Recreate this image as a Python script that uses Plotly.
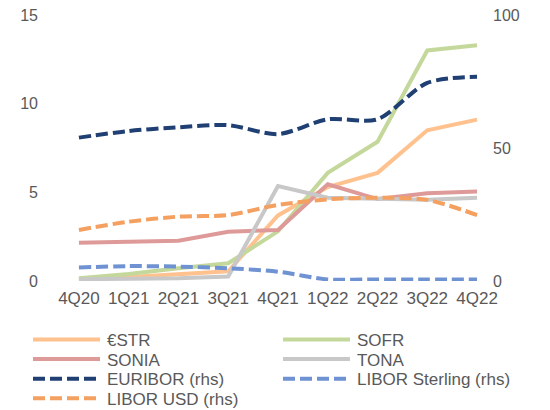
import plotly.graph_objects as go

# quarterly values
quarters = ["4Q20", "1Q21", "2Q21", "3Q21", "4Q21", "1Q22", "2Q22", "3Q22", "4Q22"]

estr = [0.05, 0.2, 0.4, 0.55, 3.7, 5.3, 6.1, 8.5, 9.1]
sofr = [0.15, 0.4, 0.72, 1.0, 2.8, 6.1, 7.85, 13.0, 13.3]
sonia = [2.15, 2.22, 2.27, 2.78, 2.88, 5.45, 4.62, 4.95, 5.05]
tona = [0.1, 0.1, 0.15, 0.25, 5.36, 4.7, 4.62, 4.58, 4.7]

euribor = [53.9, 56.4, 57.8, 58.6, 55.2, 60.8, 60.8, 74.5, 76.8]
libor_gbp = [5.1, 5.6, 5.4, 4.8, 3.5, 0.6, 0.6, 0.6, 0.6]
libor_usd = [19.2, 22.3, 24.2, 24.8, 28.6, 30.7, 31.3, 30.5, 24.8]

left_ticks = [0, 5, 10, 15]
right_ticks = [0, 50, 100]

TEXT = "#595959"
FONT = "Liberation Sans, Arial, sans-serif"
DASH = "12px,5px"

# (name, values, colour, dashed, right-hand axis)
series = [
    ("€STR", estr, "#FFC28F", False, False),
    ("SOFR", sofr, "#C4D89C", False, False),
    ("SONIA", sonia, "#DE9A98", False, False),
    ("TONA", tona, "#C8C8C8", False, False),
    ("EURIBOR (rhs)", euribor, "#203F73", True, True),
    ("LIBOR Sterling (rhs)", libor_gbp, "#6F93D2", True, True),
    ("LIBOR USD (rhs)", libor_usd, "#F4A060", True, True),
]

# page body adds an 8px margin, so work in screen pixels and subtract it
OFF = 8
PLOT_L, PLOT_R, PLOT_T, PLOT_B = 64 - OFF, 487 - OFF, 15 - OFF, 281 - OFF
W, H = 550, 410


def px_x(px):
    return (px - OFF - PLOT_L) / (PLOT_R - PLOT_L)


def px_y(py):
    return (PLOT_B - (py - OFF)) / (PLOT_B - PLOT_T)


fig = go.Figure()
for name, vals, color, dashed, rhs in series:
    fig.add_trace(
        go.Scatter(
            x=quarters,
            y=vals,
            name=name,
            mode="lines",
            yaxis="y2" if rhs else "y",
            line={
                "color": color,
                "width": 4,
                "dash": DASH if dashed else "solid",
                "shape": "spline" if dashed else "linear",
                "smoothing": 0.8,
            },
            showlegend=False,
        )
    )

# hand-built legend: two columns, long line samples like the original
shapes = []
annotations = []
for i, (name, _vals, color, dashed, _rhs) in enumerate(series):
    col, row = i % 2, i // 2
    x0 = 33 + col * 250
    y = 339.5 + row * 19.6
    shapes.append(
        {
            "type": "line",
            "xref": "paper",
            "yref": "paper",
            "x0": px_x(x0),
            "x1": px_x(x0 + 67),
            "y0": px_y(y),
            "y1": px_y(y),
            "line": {"color": color, "width": 4, "dash": DASH if dashed else "solid"},
        }
    )
    annotations.append(
        {
            "text": name,
            "xref": "paper",
            "yref": "paper",
            "x": px_x(x0 + 72),
            "y": px_y(y + 1),
            "xanchor": "left",
            "yanchor": "middle",
            "showarrow": False,
            "font": {"size": 17, "color": TEXT, "family": FONT},
        }
    )

axis_common = {
    "showgrid": False,
    "zeroline": False,
    "showline": False,
    "ticks": "",
    "automargin": False,
}

fig.update_layout(
    width=W,
    height=H,
    margin={"l": PLOT_L, "r": W - PLOT_R, "t": PLOT_T, "b": H - PLOT_B, "autoexpand": False},
    paper_bgcolor="white",
    plot_bgcolor="white",
    font={"family": FONT, "color": TEXT},
    showlegend=False,
    xaxis={
        **axis_common,
        "type": "category",
        "range": [-0.3, 8.2],
        "tickfont": {"size": 17, "color": TEXT},
        "ticklabelstandoff": 5,
    },
    yaxis={
        **axis_common,
        "range": [0, 15],
        "tickvals": left_ticks,
        "tickfont": {"size": 16, "color": TEXT},
        "ticklabelstandoff": 25,
        "ticklabeloverflow": "allow",
    },
    yaxis2={
        **axis_common,
        "range": [0, 100],
        "tickvals": right_ticks,
        "overlaying": "y",
        "side": "right",
        "tickfont": {"size": 16, "color": TEXT},
        "ticklabelstandoff": 5,
        "ticklabeloverflow": "allow",
    },
    shapes=shapes,
    annotations=annotations,
)

fig.write_html("out.html")
